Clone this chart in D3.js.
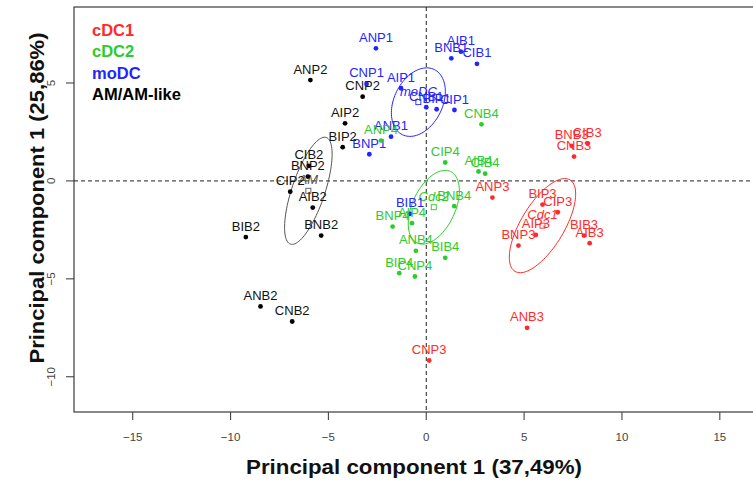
<!DOCTYPE html>
<html><head><meta charset="utf-8">
<script src="https://cdn.jsdelivr.net/npm/d3@7"></script>
<style>body{margin:0;background:#fff;}svg{display:block;font-family:"Liberation Sans",Arial,sans-serif;}</style>
</head><body><svg id="c" width="753" height="487"></svg>
<script>
// ---- data ----
const groupNames = ["cDC1", "cDC2", "moDC", "AM/AM-like"];
const centroidNames = ["Cdc1", "Cdc2", "moDC", "AM"];
const xTicks = [-15, -10, -5, 0, 5, 10, 15];
const yTicks = [-10, -5, 0, 5];

const cdc1Labels = ["CIB3","BNB3","CNB3","ANP3","BIP3","CIP3","AIP3","BNP3","BIB3","AIB3","ANB3","CNP3"];
const cdc1PC1 = [8.23, 7.43, 7.55, 3.38, 5.94, 6.72, 5.60, 4.71, 8.06, 8.35, 5.15, 0.15];
const cdc1PC2 = [1.92, 1.79, 1.24, -0.85, -1.21, -1.60, -2.76, -3.30, -2.79, -3.18, -7.50, -9.17];

const cdc2Labels = ["CNB4","ANP4","CIP4","AIB4","CIB4","BNB4","AIP4","BNP4","ANB4","BIB4","BIP4","CNP4"];
const cdc2PC1 = [2.82, -2.31, 0.97, 2.67, 3.01, 1.43, -0.73, -1.72, -0.53, 0.97, -1.38, -0.58];
const cdc2PC2 = [2.89, 2.06, 0.94, 0.48, 0.37, -1.29, -2.16, -2.33, -3.57, -3.93, -4.71, -4.88];

const modcLabels = ["ANP1","BNB1","AIB1","CIB1","CNP1","AIP1","CNB1","BIP1","CIP1","ANB1","BNP1","BIB1"];
const modcPC1 = [-2.57, 1.28, 1.77, 2.59, -3.05, -1.29, 0.00, 0.53, 1.44, -1.80, -2.91, -0.83];
const modcPC2 = [6.77, 6.26, 6.60, 5.98, 4.95, 4.73, 3.76, 3.66, 3.62, 2.26, 1.36, -1.68];

const amLabels = ["ANP2","CNP2","AIP2","BIP2","CIB2","BNP2","CIP2","AIB2","BNB2","BIB2","ANB2","CNB2"];
const amPC1 = [-5.92, -3.25, -4.15, -4.27, -6.00, -6.05, -6.95, -5.80, -5.37, -9.22, -8.47, -6.85];
const amPC2 = [5.15, 4.30, 2.94, 1.72, 0.77, 0.22, -0.55, -1.36, -2.79, -2.87, -6.41, -7.18];

const xTitle = "Principal component 1 (37,49%)";
const yTitle = "Principal component 1 (25,86%)";

// ---- build ----
const colors = ["#ff2b2b", "#2ccc2c", "#2424ff", "#000000"];
const groups = [
  {labels: cdc1Labels, x: cdc1PC1, y: cdc1PC2},
  {labels: cdc2Labels, x: cdc2PC1, y: cdc2PC2},
  {labels: modcLabels, x: modcPC1, y: modcPC2},
  {labels: amLabels, x: amPC1, y: amPC2}
];

const svg = d3.select("#c");
const x = d3.scaleLinear().domain([-18, 17]).range([74, 74 + 35 * 19.57]);
const y = d3.scaleLinear().domain([-11.8, 8.88]).range([412, 7]);

// frame
svg.append("rect").attr("x", 74).attr("y", 7).attr("width", 720).attr("height", 405)
  .attr("fill", "none").attr("stroke", "#3a3a3a").attr("stroke-width", 1.2);

// axes ticks
const xAxis = svg.append("g");
xTicks.forEach(t => {
  xAxis.append("line").attr("x1", x(t)).attr("x2", x(t)).attr("y1", 412).attr("y2", 420)
    .attr("stroke", "#444").attr("stroke-width", 1.1);
  xAxis.append("text").attr("x", x(t)).attr("y", 441).attr("text-anchor", "middle")
    .attr("font-size", 11.5).attr("fill", "#444").text(String(t).replace("-", "\u2212"));
});
const yAxis = svg.append("g");
yTicks.forEach(t => {
  yAxis.append("line").attr("x1", 66).attr("x2", 74).attr("y1", y(t)).attr("y2", y(t))
    .attr("stroke", "#444").attr("stroke-width", 1.1);
  yAxis.append("text").attr("transform", `translate(55,${y(t)}) rotate(-90)`)
    .attr("text-anchor", "middle").attr("font-size", 11.5).attr("fill", "#444")
    .text(String(t).replace("-", "\u2212"));
});

// dashed zero lines
svg.append("line").attr("x1", x(0)).attr("x2", x(0)).attr("y1", 7).attr("y2", 412)
  .attr("stroke", "#222").attr("stroke-dasharray", "4,3");
svg.append("line").attr("x1", 74).attr("x2", 753).attr("y1", y(0)).attr("y2", y(0))
  .attr("stroke", "#222").attr("stroke-dasharray", "4,3");

// ellipses (95% confidence ellipse of the group mean)
const tConf = Math.sqrt(5.991);
groups.forEach((g, gi) => {
  const n = g.x.length;
  const mx = d3.mean(g.x), my = d3.mean(g.y);
  let sxx = 0, syy = 0, sxy = 0;
  for (let i = 0; i < n; i++) {
    sxx += (g.x[i] - mx) ** 2; syy += (g.y[i] - my) ** 2; sxy += (g.x[i] - mx) * (g.y[i] - my);
  }
  sxx /= (n - 1) * n; syy /= (n - 1) * n; sxy /= (n - 1) * n;
  const tr = sxx + syy, det = sxx * syy - sxy * sxy;
  const l1 = tr / 2 + Math.sqrt(tr * tr / 4 - det), l2 = tr / 2 - Math.sqrt(tr * tr / 4 - det);
  let v1 = Math.abs(sxy) > 1e-12 ? [l1 - syy, sxy] : (sxx >= syy ? [1, 0] : [0, 1]);
  const nv = Math.hypot(v1[0], v1[1]); v1 = [v1[0] / nv, v1[1] / nv];
  const v2 = [-v1[1], v1[0]];
  const pts = d3.range(0, 101).map(k => {
    const a = 2 * Math.PI * k / 100;
    const c1 = tConf * Math.sqrt(l1) * Math.cos(a), c2 = tConf * Math.sqrt(l2) * Math.sin(a);
    return [x(mx + c1 * v1[0] + c2 * v2[0]), y(my + c1 * v1[1] + c2 * v2[1])];
  });
  const col = gi === 3 ? "#555" : colors[gi];
  svg.append("path").attr("d", d3.line()(pts)).attr("fill", "none")
    .attr("stroke", col).attr("stroke-width", 1);
  // centroid
  svg.append("rect").attr("x", x(mx) - 2.5).attr("y", y(my) - 2.5).attr("width", 5).attr("height", 5)
    .attr("fill", "none").attr("stroke", col).attr("stroke-width", 0.9);
  svg.append("text").attr("x", x(mx)).attr("y", y(my) - 6.5).attr("text-anchor", "middle")
    .attr("font-size", 13).attr("font-style", "italic").attr("fill", col).text(centroidNames[gi]);
});

// points and labels
[3, 2, 1, 0].forEach(gi => {
  const g = groups[gi];
  const gg = svg.append("g");
  g.labels.forEach((lab, i) => {
    gg.append("circle").attr("cx", x(g.x[i])).attr("cy", y(g.y[i])).attr("r", 2.4).attr("fill", colors[gi]);
    gg.append("text").attr("x", x(g.x[i])).attr("y", y(g.y[i]) - 6.5).attr("text-anchor", "middle")
      .attr("font-size", 13).attr("fill", gi === 3 ? "#111" : colors[gi]).text(lab);
  });
});

// legend
groupNames.forEach((nm, i) => {
  svg.append("text").attr("x", 92).attr("y", 36 + i * 21.3).attr("font-size", 16.5)
    .attr("font-weight", "bold").attr("fill", colors[i]).text(nm);
});

// axis titles
svg.append("text").attr("x", 414).attr("y", 474).attr("text-anchor", "middle")
  .attr("font-size", 21).attr("font-weight", "bold").attr("fill", "#111")
  .attr("textLength", 336).attr("lengthAdjust", "spacingAndGlyphs").text(xTitle);
svg.append("text").attr("transform", "translate(44,198) rotate(-90)").attr("text-anchor", "middle")
  .attr("font-size", 21).attr("font-weight", "bold").attr("fill", "#111")
  .attr("textLength", 331).attr("lengthAdjust", "spacingAndGlyphs").text(yTitle);
</script></body></html>
